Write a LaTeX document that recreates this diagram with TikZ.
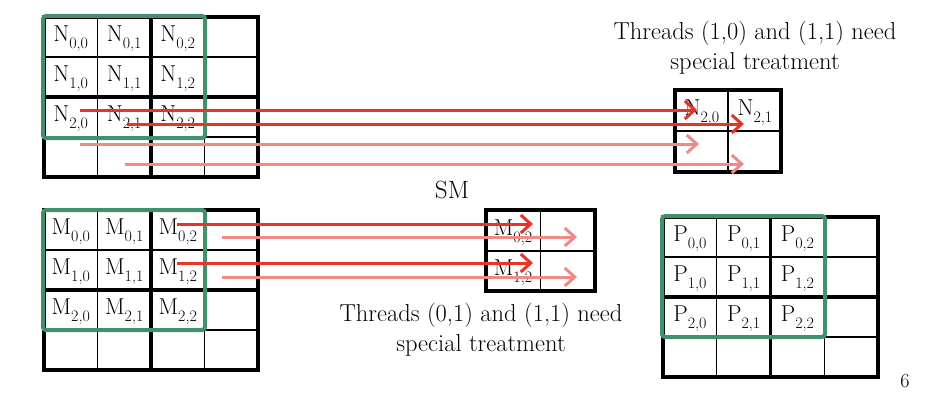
\documentclass[tikz,border=0pt]{standalone}
\usepackage{fontspec}
\usetikzlibrary{arrows.meta}
\definecolor{gridgreen}{RGB}{66,145,110}
\definecolor{arrred}{RGB}{232,52,38}
\definecolor{arrpink}{RGB}{240,138,134}
\newcommand\mysub[1]{\raisebox{-0.32em}{\fontsize{16}{16}\selectfont #1}}
\newcommand\lbl[3]{#1\mysub{#2,#3}}
\tikzset{
  thinline/.style={line width=1.4pt,black},
  thickline/.style={line width=3.6pt,black},
  greenbox/.style={draw=gridgreen,line width=4pt,rounded corners=3pt},
  celllabel/.style={font=\fontsize{23}{26}\selectfont,inner sep=0pt},
  note/.style={font=\fontsize{24.5}{30}\selectfont,align=center,inner sep=0pt},
  redarrow/.style={draw=arrred,line width=3pt,-{Straight Barb[length=10pt,width=18pt]}},
  pinkarrow/.style={draw=arrpink,line width=3pt,-{Straight Barb[length=10pt,width=18pt]}}
}
\begin{document}
\begin{tikzpicture}[x=1pt,y=-1pt]
\useasboundingbox (0,0) rectangle (932,412);
% ---------- N grid ----------
\foreach \i in {1,3}{\draw[thinline] (44+\i*53.5,17) -- (44+\i*53.5,177);}
\foreach \j in {1,3}{\draw[thinline] (44,17+\j*40) -- (258,17+\j*40);}
\draw[thickline] (151,17) -- (151,177);
\draw[thickline] (44,97) -- (258,97);
\draw[thickline] (44,17) rectangle (258,177);
\foreach \r in {0,1,2}{\foreach \c in {0,1,2}{
  \node[celllabel] (N\r\c) at (44+\c*53.5+26.75,17+\r*40+22) {\lbl{N}{\r}{\c}};}}
\draw[greenbox] (43,16) rectangle (205,138);
% ---------- M grid ----------
\foreach \i in {1,3}{\draw[thinline] (44+\i*53.5,210) -- (44+\i*53.5,370);}
\foreach \j in {1,3}{\draw[thinline] (44,210+\j*40) -- (258,210+\j*40);}
\draw[thickline] (151,210) -- (151,370);
\draw[thickline] (44,290) -- (258,290);
\draw[thickline] (44,210) rectangle (258,370);
\foreach \r in {0,1,2}{\foreach \c in {0,1,2}{
  \node[celllabel] (M\r\c) at (44+\c*53.5+26.75,210+\r*40+22) {\lbl{M}{\r}{\c}};}}
\draw[greenbox] (43,210) rectangle (205,330);
% ---------- P grid ----------
\foreach \i in {1,3}{\draw[thinline] (663+\i*53.75,217) -- (663+\i*53.75,377);}
\foreach \j in {1,3}{\draw[thinline] (663,217+\j*40) -- (878,217+\j*40);}
\draw[thickline] (770.5,217) -- (770.5,377);
\draw[thickline] (663,297) -- (878,297);
\draw[thickline] (663,217) rectangle (878,377);
\foreach \r in {0,1,2}{\foreach \c in {0,1,2}{
  \node[celllabel] (P\r\c) at (663+\c*53.75+26.9,217+\r*40+22) {\lbl{P}{\r}{\c}};}}
\draw[greenbox] (662,216) rectangle (825,337);
% ---------- small N box ----------
\draw[thinline] (728,90) -- (728,172);
\draw[thinline] (675,131) -- (781,131);
\draw[thickline] (675,90) rectangle (781,172);
\node[celllabel] (SN0) at (702,113) {\lbl{N}{2}{0}};
\node[celllabel] (SN1) at (755,113) {\lbl{N}{2}{1}};
% ---------- small M box ----------
\draw[thinline] (540.5,210) -- (540.5,291);
\draw[thinline] (486,251) -- (595,251);
\draw[thickline] (486,210) rectangle (595,291);
\node[celllabel] (SM0) at (513,233) {\lbl{M}{0}{2}};
\node[celllabel] (SM1) at (513,273) {\lbl{M}{1}{2}};
% ---------- texts ----------
\node[note] (t1) at (755,48) {Threads (1,0) and (1,1) need\\special treatment};
\node[note] (t2) at (481,330) {Threads (0,1) and (1,1) need\\special treatment};
\node[font=\fontsize{25}{27}\selectfont,inner sep=0pt] (sm) at (452,190) {SM};
\node[font=\fontsize{20}{22}\selectfont,inner sep=0pt] (pg) at (905,381) {6};
% ---------- arrows ----------
\coordinate (a1s) at (80,110);  \coordinate (a1e) at (697,110);
\coordinate (a2s) at (127,124); \coordinate (a2e) at (744,124);
\coordinate (a3s) at (80,144);  \coordinate (a3e) at (699,144);
\coordinate (a4s) at (125,164); \coordinate (a4e) at (744,164);
\draw[pinkarrow] (a3s) -- (a3e);
\draw[pinkarrow] (a4s) -- (a4e);
\draw[redarrow] (a1s) -- (a1e);
\draw[redarrow] (a2s) -- (a2e);
\coordinate (b1s) at (177,224); \coordinate (b1e) at (533,224);
\coordinate (b2s) at (222,237); \coordinate (b2e) at (577,237);
\coordinate (b3s) at (177,263); \coordinate (b3e) at (533,263);
\coordinate (b4s) at (222,277); \coordinate (b4e) at (577,277);
\draw[pinkarrow] (b2s) -- (b2e);
\draw[pinkarrow] (b4s) -- (b4e);
\draw[redarrow] (b1s) -- (b1e);
\draw[redarrow] (b3s) -- (b3e);
\end{tikzpicture}
\end{document}
